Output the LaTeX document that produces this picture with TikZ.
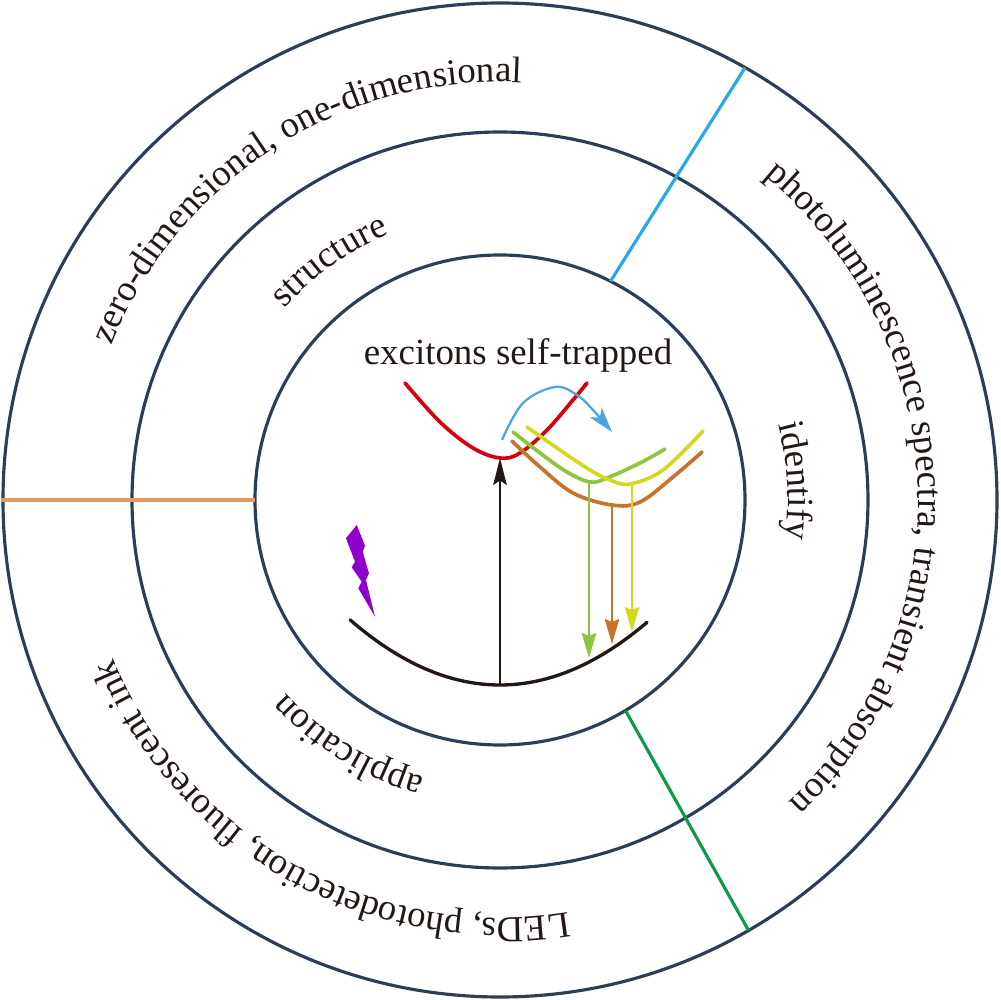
\documentclass[tikz,border=0pt]{standalone}
\usepackage{fontspec}
\setmainfont{Liberation Serif}
\usetikzlibrary{arrows.meta,decorations.text}
\definecolor{ring}{HTML}{2C3E56}
\definecolor{txt}{HTML}{231815}
\definecolor{rblue}{HTML}{27A9E1}
\definecolor{rorange}{HTML}{E39A62}
\definecolor{rgreen}{HTML}{12984A}
\definecolor{cred}{HTML}{D7000F}
\definecolor{cgreen}{HTML}{8CC63F}
\definecolor{cyellow}{HTML}{D4D920}
\definecolor{corange}{HTML}{C8732A}
\definecolor{cpurple}{HTML}{9000CC}
\definecolor{cblue}{HTML}{4AA6E0}
\newcommand\lbl{\fontsize{10.5}{12}\selectfont\color{txt}}
\tikzset{
  ringline/.style={draw=ring, line width=0.9pt},
  radline/.style={line width=0.9pt},
  curve/.style={line width=1.05pt, line cap=round},
  drop/.style={line width=0.6pt, -{Stealth[length=2.5mm, width=1.45mm, inset=0.3mm]}},
  arclabel/.style={decorate, decoration={text along path, text align=center, text={|\lbl|#1}}}
}
\begin{document}
\begin{tikzpicture}[x=0.1mm,y=0.1mm]
\useasboundingbox (0,0) rectangle (1000,1000);
\coordinate (c) at (500,500);
% rings
\draw[ringline] (c) circle[radius=24.5mm];
\draw[ringline] (c) circle[radius=36.8mm];
\draw[ringline] (c) circle[radius=49.7mm];
% radial dividers
\path (c) ++(63.2:24.5mm) coordinate (bi);
\path (c) ++(60.45:49.7mm) coordinate (bo);
\path (c) ++(-59.2:24.5mm) coordinate (gi);
\path (c) ++(-60:49.7mm) coordinate (go);
\path (c) ++(180:24.5mm) coordinate (oi);
\path (c) ++(180:49.9mm) coordinate (oo);
\draw[radline, draw=rblue] (bi) -- (bo);
\draw[radline, draw=rgreen] (gi) -- (go);
\draw[radline, draw=rorange] (oi) -- (oo);
% arc labels
\path[arclabel={zero-dimensional, one-dimensional}] (c) ++(182.7:41.8mm) arc[start angle=182.7, end angle=62.7, radius=41.8mm];
\path[arclabel={photoluminescence spectra, transient absorption}] (c) ++(72.25:41.8mm) arc[start angle=72.25, end angle=-67.75, radius=41.8mm];
\path[arclabel={LEDs, photodetection, fluorescent ink}] (c) ++(-59.2:41.8mm) arc[start angle=-59.2, end angle=-179.2, radius=41.8mm];
\path[arclabel={structure}] (c) ++(165.5:28.8mm) arc[start angle=165.5, end angle=85.5, radius=28.8mm];
\path[arclabel={identify}] (c) ++(43.7:28.8mm) arc[start angle=43.7, end angle=-36.3, radius=28.8mm];
\path[arclabel={application}] (c) ++(-81.6:28.8mm) arc[start angle=-81.6, end angle=-161.6, radius=28.8mm];
% title
\node[anchor=base, inner sep=0pt, font=\lbl] (title) at (518,635) {excitons self-trapped};
% ground state
\draw[curve, draw=txt, line width=0.95pt] plot[domain=-150:147, samples=80] ({500+\x}, {315+0.29*(\x/10)^2});
% excited state
\draw[curve, draw=cred] plot[smooth, tension=0.6] coordinates {(405,617) (440,578) (473,552) (500,542) (520,547) (547,570) (573,600) (587,617)};
% STE curves
\draw[curve, draw=corange] plot[smooth, tension=0.6] coordinates {(512,559) (540,533) (573,507) (612,495) (640,498) (673,523) (702,548)};
\draw[curve, draw=cgreen] plot[smooth, tension=0.6] coordinates {(513,568) (540,547) (567,528) (590,518) (607,522) (640,537) (665,551)};
\draw[curve, draw=cyellow] plot[smooth, tension=0.6] coordinates {(527,573) (557,552) (590,530) (610,520) (630,516) (663,530) (703,569)};
% absorption arrow
\coordinate (g0) at (500,315);
\coordinate (e0) at (500,542);
\draw[line width=0.65pt, draw=txt, fill=txt, -{Stealth[length=2.7mm, width=1.35mm, inset=0.45mm]}] (g0) -- (e0);
% emission arrows
\coordinate (gs) at (589,518); \coordinate (ge) at (589,342);
\coordinate (os) at (612,495); \coordinate (oe) at (612,356);
\coordinate (ys) at (632,516); \coordinate (ye) at (632,368);
\draw[drop, draw=cgreen, fill=cgreen] (gs) -- (ge);
\draw[drop, draw=corange, fill=corange] (os) -- (oe);
\draw[drop, draw=cyellow, fill=cyellow] (ys) -- (ye);
% trapping arrow
\draw[line width=0.65pt, draw=cblue, -{Stealth[length=2.5mm, width=1.5mm, inset=0.6mm]}] plot[smooth, tension=0.6] coordinates {(502,560) (523,597) (555,613) (577,605) (593,590) (612,568)};
% lightning
\fill[cpurple] (356.7,475) -- (365,454.3) -- (362.7,448.3) -- (369,426.7) -- (366,420) -- (375,383.3) -- (358.3,411.7) -- (361.7,418.3) -- (351.7,432.7) -- (355,438.3) -- (346,461.7) -- cycle;
\end{tikzpicture}
\end{document}
